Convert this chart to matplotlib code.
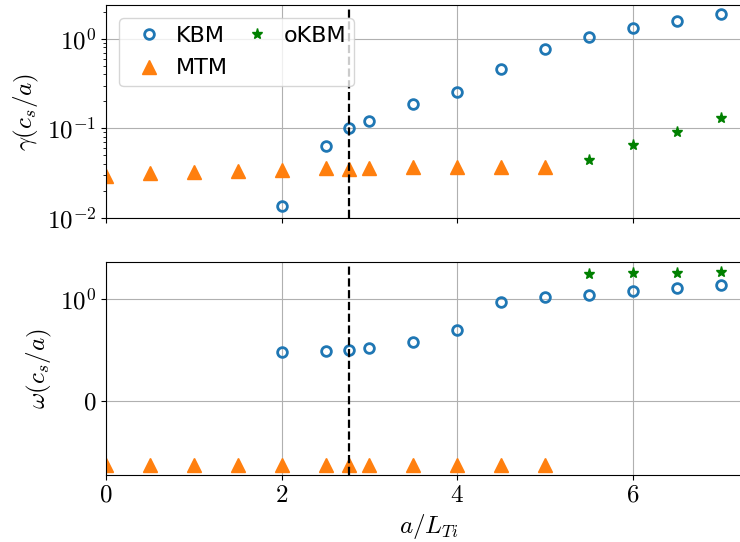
import matplotlib
matplotlib.use('Agg')
import matplotlib.pyplot as plt
import matplotlib.ticker as mticker
import numpy as np

plt.rcParams['font.family'] = 'serif'
plt.rcParams['font.serif'] = ['cmr10']
plt.rcParams['mathtext.fontset'] = 'cm'
plt.rcParams['axes.formatter.use_mathtext'] = True
plt.rcParams['font.size'] = 18

# KBM branch
x_kbm = [2.0, 2.5, 2.77, 3.0, 3.5, 4.0, 4.5, 5.0, 5.5, 6.0, 6.5, 7.0]
gamma_kbm = [0.0136, 0.0637, 0.100, 0.122, 0.188, 0.256, 0.462, 0.767, 1.045, 1.316, 1.59, 1.87]
omega_kbm = [0.483, 0.493, 0.503, 0.517, 0.578, 0.693, 0.968, 1.06, 1.11, 1.22, 1.32, 1.43]

# MTM branch
x_mtm = [0.0, 0.5, 1.0, 1.5, 2.0, 2.5, 2.77, 3.0, 3.5, 4.0, 4.5, 5.0]
gamma_mtm = [0.0297, 0.0316, 0.0324, 0.0332, 0.0344, 0.0359, 0.0353, 0.0362, 0.0372, 0.0374, 0.0374, 0.0374]
omega_mtm = [-0.63, -0.63, -0.63, -0.63, -0.63, -0.63, -0.63, -0.63, -0.63, -0.63, -0.63, -0.63]

# other KBM branch
x_okbm = [5.5, 6.0, 6.5, 7.0]
gamma_okbm = [0.0444, 0.0653, 0.0919, 0.129]
omega_okbm = [1.87, 1.91, 1.92, 1.95]

x_crit = 2.77

fig = plt.figure(figsize=(7.4, 5.42), dpi=100)
ax1 = fig.add_axes([0.1431, 0.5978, 0.8726, 0.393])
ax2 = fig.add_axes([0.1431, 0.1236, 0.8726, 0.393], sharex=ax1)

for ax, yk, ym, yo in [(ax1, gamma_kbm, gamma_mtm, gamma_okbm),
                       (ax2, omega_kbm, omega_mtm, omega_okbm)]:
    ax.plot(x_kbm, yk, 'o', color='tab:blue', mfc='none', ms=7, mew=2,
            label='KBM', ls='none')
    ax.plot(x_mtm, ym, '^', color='tab:orange', ms=10, ls='none', label='MTM')
    ax.plot(x_okbm, yo, '*', color='green', ms=8, ls='none', label='oKBM')
    ax.axvline(x_crit, color='black', ls='--', lw=1.6)
    ax.grid(True)

ax1.set_yscale('log')
ax1.set_ylim(0.01, 2.38)
ax1.set_ylabel(r'$\gamma(c_s/a)$')
ax1.tick_params(labelbottom=False)

ax2.set_yscale('symlog', linthresh=1)
ax2.yaxis.set_minor_locator(mticker.NullLocator())
ax2.set_ylim(-0.726, 2.53)
ax2.set_ylabel(r'$\omega(c_s/a)$')
ax2.set_xlabel(r'$a/L_{Ti}$')
ax2.set_xlim(0, 7.35)
ax2.set_xticks([0, 2, 4, 6])

ax1.legend(loc='upper left', ncol=2, prop={'family': 'DejaVu Sans', 'size': 16},
           handletextpad=0.2, columnspacing=0.3, labelspacing=0.55,
           borderaxespad=0.6, borderpad=0.35)

plt.savefig('out.png')
